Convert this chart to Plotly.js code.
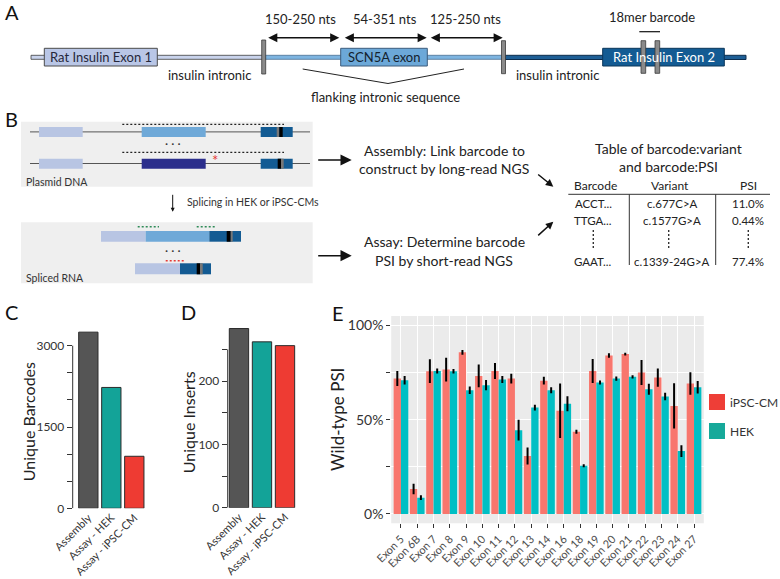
<!DOCTYPE html>
<html><head><meta charset="utf-8">
<script src="https://cdn.plot.ly/plotly-3.0.1.min.js"></script>
<style>html,body{margin:0;padding:0;background:#fff}#chart{width:780px;height:579px}</style>
</head><body><div id="chart"></div>
<script>
// ---------- data ----------
const sampleCats = ['Assembly', 'Assay - HEK', 'Assay - iPSC-CM'];
const uniqueBarcodes = [3250, 2230, 960];
const uniqueInserts = [283, 262, 256];
const exons = ['Exon 5','Exon 6B','Exon 7','Exon 8','Exon 9','Exon 10','Exon 11','Exon 12','Exon 13','Exon 14','Exon 16','Exon 18','Exon 19','Exon 20','Exon 21','Exon 22','Exon 23','Exon 24','Exon 27'];
const psiIPSC = [0.718,0.132,0.757,0.766,0.857,0.732,0.758,0.718,0.307,0.707,0.547,0.436,0.758,0.840,0.848,0.750,0.723,0.573,0.692];
const errIPSC = [0.040,0.028,0.063,0.063,0.013,0.060,0.042,0.026,0.045,0.021,0.145,0.011,0.064,0.012,0.007,0.066,0.049,0.120,0.060];
const psiHEK = [0.709,0.086,0.758,0.757,0.656,0.683,0.713,0.444,0.564,0.656,0.584,0.256,0.697,0.718,0.727,0.661,0.623,0.333,0.672];
const errHEK = [0.023,0.013,0.013,0.012,0.020,0.027,0.018,0.055,0.015,0.016,0.040,0.008,0.011,0.011,0.009,0.029,0.020,0.031,0.033];
const tableHeaders = ['Barcode', 'Variant', 'PSI'];
const tableBarcodes = ['ACCT...', 'TTGA...', 'GAAT...'];
const tableVariants = ['c.677C>A', 'c.1577G>A', 'c.1339-24G>A'];
const tablePSI = ['11.0%', '0.44%', '77.4%'];
const lengthLabels = ['150-250 nts', '54-351 nts', '125-250 nts'];

// ---------- helpers (pixel -> paper) ----------
const W = 780, H = 579;
const X = p => p / W, Y = p => 1 - p / H;
const FONT = 'Lato, "Open Sans", sans-serif';
const shapes = [], ann = [];
function rect(x0, y0, x1, y1, fill, lc, lw) {
  shapes.push({type:'rect', xref:'paper', yref:'paper', x0:X(x0), x1:X(x1), y0:Y(y1), y1:Y(y0),
    fillcolor: fill, line:{color: lc || fill, width: lw === undefined ? 0 : lw}});
}
function seg(x0, y0, x1, y1, c, w, dash) {
  shapes.push({type:'line', xref:'paper', yref:'paper', x0:X(x0), x1:X(x1), y0:Y(y0), y1:Y(y1),
    line:{color:c, width:w, dash: dash || 'solid'}});
}
function txt(x, y, t, size, o) {
  o = o || {};
  ann.push({xref:'paper', yref:'paper', x:X(x), y:Y(y), text:t, showarrow:false,
    xanchor:o.xa || 'center', yanchor:'middle', textangle:o.angle || 0, borderpad:0,
    font:{family:FONT, size:size, color:o.color || '#222'}});
}
function arrow(xt, yt, xh, yh, o) {
  o = o || {};
  ann.push({xref:'paper', yref:'paper', x:X(xh), y:Y(yh), ax:xt - xh, ay:yt - yh, text:'',
    showarrow:true, arrowhead:o.head || 2, startarrowhead:o.head || 2, arrowsize:o.size || 1,
    startarrowsize:o.size || 1,
    arrowwidth:o.w || 1.3, arrowcolor:'#111', arrowside:o.both ? 'end+start' : 'end', standoff:0, startstandoff:0});
}

// ---------- Panel A ----------
txt(4, 12, 'A', 20, {xa:'left', color:'#111'});
rect(31, 55.3, 263, 59.3, '#C9D3EC', '#3c3c3c', 0.8);
rect(265, 55.3, 503, 59.3, '#7DB4E0', '#4a6f90', 0.8);
rect(505, 55.3, 746, 59.5, '#1E5F96', '#0d2d4d', 1);
rect(44.3, 48.3, 157.3, 66, '#B9C6E6', '#4a4a4a', 1);
rect(340.7, 48.3, 427.3, 66, '#6CA8D8', '#3d5d7d', 1);
rect(602.7, 48.3, 724.3, 66, '#135B93', '#0b3659', 1);
rect(261.7, 40, 265.7, 74, '#8a8a8a', '#3a3a3a', 0.8);
rect(501.5, 40.7, 505.5, 73.7, '#8a8a8a', '#3a3a3a', 0.8);
rect(641, 40.7, 645.7, 73.3, '#8a8a8a', '#3a3a3a', 0.8);
rect(655, 40.7, 659.7, 73.3, '#8a8a8a', '#3a3a3a', 0.8);
seg(639.3, 31.7, 660, 31.7, '#111', 1.2);
seg(302.7, 69, 388, 83.5, '#222', 1);
seg(388, 83.5, 464, 69, '#222', 1);
txt(100.8, 57.4, 'Rat Insulin Exon 1', 13, {color:'#26283a'});
txt(384, 57.4, 'SCN5A exon', 13, {color:'#14222e'});
txt(663.5, 57.4, 'Rat Insulin Exon 2', 13, {color:'#ffffff'});
txt(651.7, 17.5, '18mer barcode', 13);
txt(300.8, 19, lengthLabels[0], 13);
txt(385, 19, lengthLabels[1], 13);
txt(465, 19, lengthLabels[2], 13);
txt(209.5, 75.5, 'insulin intronic', 13);
txt(557.2, 75.5, 'insulin intronic', 13);
txt(385, 97, 'flanking intronic sequence', 13);
arrow(266.7, 37.7, 339.3, 37.7, {both:true, w:1.4, size:1.3});
arrow(343.3, 37.7, 426.7, 37.7, {both:true, w:1.4, size:1.3});
arrow(429.3, 37.7, 502.7, 37.7, {both:true, w:1.4, size:1.3});

// ---------- Panel B ----------
txt(4, 119, 'B', 20, {xa:'left', color:'#111'});
rect(21, 121.7, 312.7, 186.7, '#EFEFEF');
rect(21, 222.3, 312.7, 283.3, '#EFEFEF');
seg(30, 131.9, 310, 131.9, '#555', 1);
seg(30, 163.5, 310, 163.5, '#555', 1);
rect(39, 127, 82.7, 137, '#B8C5E3');
rect(141.7, 127, 205.7, 137, '#6FA9D8');
rect(260.7, 127, 292.7, 137, '#135B93');
rect(276.7, 127, 279.3, 137, '#777');
rect(279.3, 127, 282.7, 137, '#000');
rect(39, 158.7, 82.7, 168.7, '#B8C5E3');
rect(141.7, 158.7, 205.7, 168.7, '#2B2E8C');
rect(260.7, 158.7, 292.7, 168.7, '#135B93');
rect(277.7, 158.7, 281, 168.7, '#000');
rect(281, 158.7, 283.7, 168.7, '#777');
seg(122.3, 124.3, 284, 124.3, '#222', 1.2, '2px,2px');
seg(122.3, 152.3, 284, 152.3, '#222', 1.2, '2px,2px');
txt(173.3, 143, '· · ·', 12, {color:'#333'});
txt(215, 159.5, '*', 15, {color:'#E53935'});
txt(25, 182.3, 'Plasmid DNA', 10.5, {xa:'left', color:'#333'});
arrow(172.7, 193.3, 172.7, 211.7, {size:0.8, w:1});
txt(186, 201.7, 'Splicing in HEK or iPSC-CMs', 10.5, {xa:'left', color:'#333'});
rect(101, 231, 145.7, 241.7, '#B8C5E3');
rect(145.7, 231, 209.3, 241.7, '#6FA9D8');
rect(209.3, 231, 241, 241.7, '#135B93');
rect(226.7, 231, 230.7, 241.7, '#000');
rect(230.7, 231, 232.7, 241.7, '#777');
seg(137.7, 226.7, 159, 226.7, '#2E8B57', 1.5, '2px,2px');
seg(196.7, 226.7, 216.7, 226.7, '#2E8B57', 1.5, '2px,2px');
txt(173.3, 250, '· · ·', 12, {color:'#333'});
seg(165.7, 260.7, 185.7, 260.7, '#E53935', 1.5, '2px,2px');
rect(135, 263.3, 180, 274.3, '#B8C5E3');
rect(180, 263.3, 211, 274.3, '#135B93');
rect(196.7, 263.3, 200, 274.3, '#000');
rect(200, 263.3, 202.7, 274.3, '#777');
txt(25, 277.7, 'Spliced RNA', 10.5, {xa:'left', color:'#333'});
arrow(316.7, 160, 351.7, 160, {size:1.4, w:1.6});
arrow(316.7, 255.7, 351.7, 255.7, {size:1.4, w:1.6});
txt(444, 150.7, 'Assembly: Link barcode to', 14);
txt(444, 168.5, 'construct by long-read NGS', 14);
txt(444, 241.7, 'Assay: Determine barcode', 14);
txt(444, 260, 'PSI by short-read NGS', 14);
arrow(536.7, 173.3, 553.3, 186.7, {size:1, w:1.5});
arrow(536.7, 236.7, 553.3, 221.7, {size:1, w:1.5});
txt(668.3, 148.3, 'Table of barcode:variant', 14);
txt(668.3, 166.7, 'and barcode:PSI', 14);
const colX = [595, 670, 748.3];
tableHeaders.forEach((h, i) => txt(colX[i], 185.7, h, 12));
seg(568.3, 194.3, 770, 194.3, '#333', 1);
seg(629.3, 194.3, 629.3, 265, '#333', 1);
seg(715.7, 194.3, 715.7, 265, '#333', 1);
const rowY = [204, 220, 261];
tableBarcodes.forEach((v, i) => txt(593.3, rowY[i], v, 11.5));
tableVariants.forEach((v, i) => txt(672, rowY[i], v, 11.5));
tablePSI.forEach((v, i) => txt(748.3, rowY[i], v, 11.5));
[593.3, 668.7, 748.3].forEach(x => seg(x, 230, x, 250, '#333', 1.4, '2px,2px'));

// ---------- Panels C, D, E labels ----------
txt(4, 312, 'C', 20, {xa:'left', color:'#111'});
txt(180, 312, 'D', 20, {xa:'left', color:'#111'});
txt(331, 313, 'E', 20, {xa:'left', color:'#111'});
txt(28.3, 422, 'Unique Barcodes', 16, {angle:-90});
txt(188.3, 422, 'Unique Inserts', 16, {angle:-90});
txt(337.5, 419.5, 'Wild-type PSI', 17, {angle:-90});
// capped axis lines
shapes.push({type:'line', xref:'x domain', yref:'y', x0:0, x1:0, y0:0, y1:3000, line:{color:'#333', width:1}});
shapes.push({type:'line', xref:'x2 domain', yref:'y2', x0:0, x1:0, y0:0, y1:250, line:{color:'#333', width:1}});
// E panel background
shapes.push({type:'rect', xref:'x3 domain', yref:'y3 domain', x0:0, x1:1, y0:0, y1:1, fillcolor:'#EBEBEB', line:{width:0}, layer:'below'});
// E legend
rect(709, 394, 725, 410, '#EE3E37');
rect(709, 423, 725, 439, '#16A99A');
txt(729, 402, 'iPSC-CM', 12, {xa:'left', color:'#333'});
txt(729, 431, 'HEK', 12, {xa:'left', color:'#333'});

const barCols = ['#555555', '#13A398', '#EE3B33'];
const traces = [
  {type:'bar', x:sampleCats, y:uniqueBarcodes, xaxis:'x', yaxis:'y', width:0.84,
   marker:{color:barCols, line:{color:'#2b2b2b', width:1}}, showlegend:false},
  {type:'bar', x:sampleCats, y:uniqueInserts, xaxis:'x2', yaxis:'y2', width:0.84,
   marker:{color:barCols, line:{color:'#2b2b2b', width:1}}, showlegend:false},
  {type:'bar', name:'iPSC-CM', x:exons, y:psiIPSC, xaxis:'x3', yaxis:'y3', marker:{color:'#F8766D'},
   error_y:{type:'data', array:errIPSC, visible:true, color:'#000', thickness:2, width:0}, showlegend:false},
  {type:'bar', name:'HEK', x:exons, y:psiHEK, xaxis:'x3', yaxis:'y3', marker:{color:'#00BFC4'},
   error_y:{type:'data', array:errHEK, visible:true, color:'#000', thickness:2, width:0}, showlegend:false}
];

const catAxis = (d0, d1, r, anchor) => ({domain:[X(d0), X(d1)], range:r, type:'category', anchor:anchor,
  tickangle:-45, ticks:'', showline:false, showgrid:false, zeroline:false, fixedrange:true,
  tickfont:{family:FONT, size:11, color:'#333'}});
const layout = {
  width:W, height:H, margin:{l:0, r:0, t:0, b:0}, paper_bgcolor:'#fff', plot_bgcolor:'rgba(0,0,0,0)',
  showlegend:false, hovermode:false, barmode:'group', bargap:0.1, bargroupgap:0,
  font:{family:FONT},
  xaxis: catAxis(72.7, 148.1, [-0.68, 2.6], 'y'),
  yaxis: {domain:[Y(508.3), Y(325)], range:[0, 3382], anchor:'x', tickmode:'array',
    tickvals:[0,500,1000,1500,2000,2500,3000], ticktext:['0','','','1500','','','3000'],
    ticks:'outside', ticklen:5, tickcolor:'#333', showgrid:false, zeroline:false, showline:false,
    tickfont:{family:FONT, size:12, color:'#333'}},
  xaxis2: catAxis(227.7, 298.8, [-0.49, 2.6], 'y2'),
  yaxis2: {domain:[Y(507.7), Y(324.1)], range:[0, 290], anchor:'x2', tickmode:'array',
    tickvals:[0,50,100,150,200,250], ticktext:['0','','100','','200',''],
    ticks:'outside', ticklen:5, tickcolor:'#333', showgrid:false, zeroline:false, showline:false,
    tickfont:{family:FONT, size:12, color:'#333'}},
  xaxis3: {domain:[X(391.2), X(703.8)], range:[-0.6, 18.6], type:'category', anchor:'y3',
    tickangle:-45, ticks:'outside', ticklen:4, tickcolor:'#333', showgrid:true, gridcolor:'#ffffff', gridwidth:1,
    zeroline:false, showline:false, tickfont:{family:FONT, size:11, color:'#4d4d4d'}},
  yaxis3: {domain:[Y(523.3), Y(316)], range:[-0.05, 1.05], anchor:'x3', tickmode:'array',
    tickvals:[0,0.25,0.5,0.75,1], ticktext:['0%','','50%','','100%'],
    ticks:'outside', ticklen:4, tickcolor:'#333', showgrid:true, gridcolor:'#ffffff', gridwidth:1.2,
    zeroline:false, showline:false, tickfont:{family:FONT, size:14, color:'#333'}},
  shapes: shapes, annotations: ann
};
Plotly.newPlot('chart', traces, layout, {staticPlot:true, displayModeBar:false});
</script></body></html>
